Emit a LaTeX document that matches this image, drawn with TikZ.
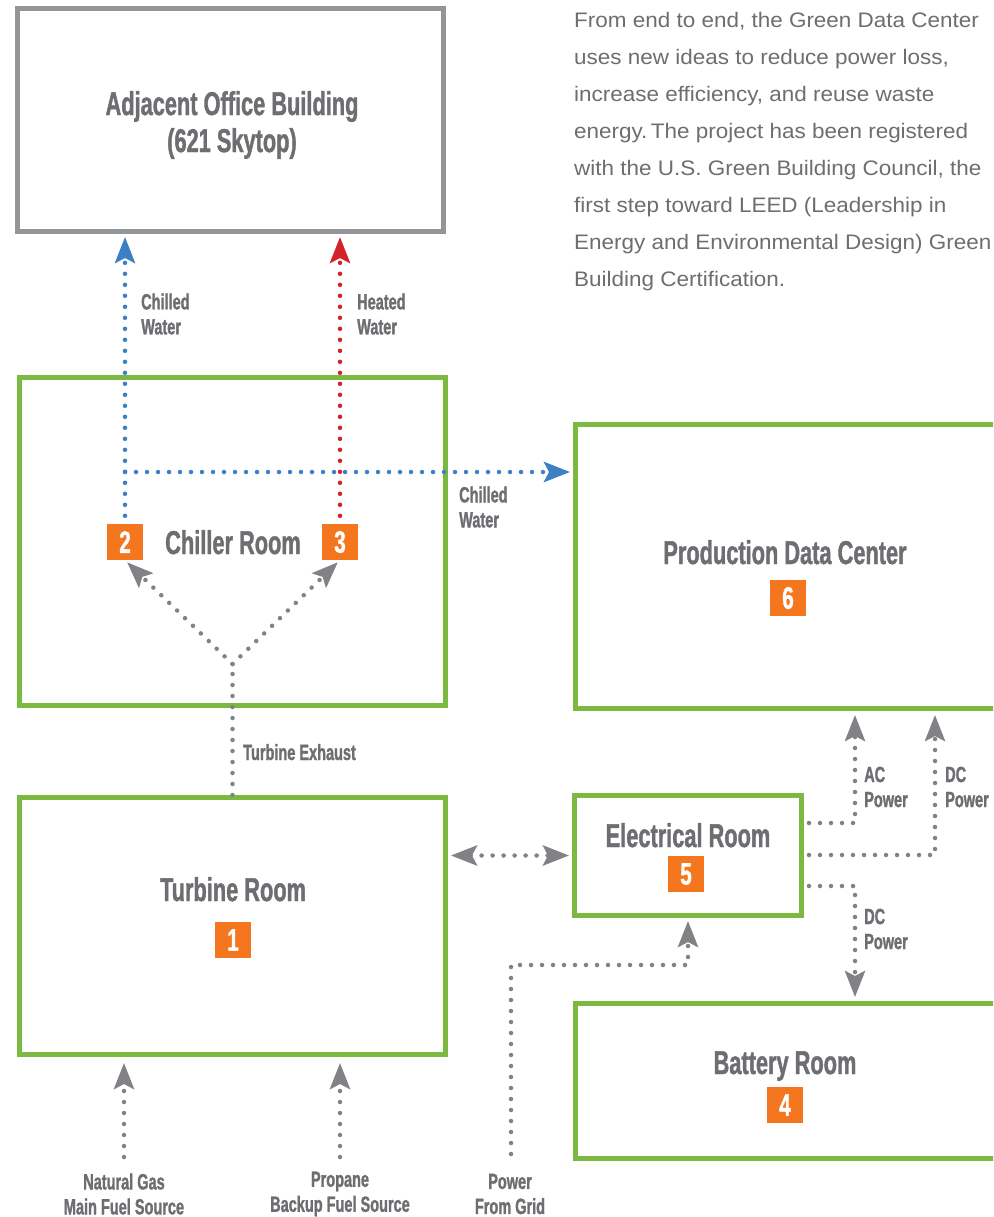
\documentclass[tikz,border=0pt]{standalone}
\usepackage{fontspec}
\setmainfont{Liberation Sans}
\newfontfamily\condf{Liberation Sans}[UprightFont=* Bold, FakeStretch=0.66, FakeBold=1.2]
\newfontfamily\bodyf{Liberation Sans}[FakeStretch=1.07]
\usetikzlibrary{arrows.meta}
\definecolor{tgray}{HTML}{6D6E71}
\definecolor{dgray}{HTML}{808285}
\definecolor{bgray}{HTML}{939598}
\definecolor{lgreen}{HTML}{7CB940}
\definecolor{orng}{HTML}{F47720}
\definecolor{bblue}{HTML}{3D7FC4}
\definecolor{rred}{HTML}{D2232A}
\tikzset{
 room/.style={draw=lgreen, line width=5pt, inner sep=0pt},
 officestyle/.style={draw=bgray, line width=5pt, inner sep=0pt},
 title/.style={font=\condf\fontsize{33}{37}\selectfont, text=tgray, inner sep=0pt, align=center},
 lbl/.style={font=\condf\fontsize{22}{25}\selectfont, text=tgray, inner sep=0pt},
 num/.style={fill=orng, text=white, minimum size=36pt, inner sep=0pt, font=\condf\fontsize{31}{31}\selectfont},
 dotline/.style={line width=4.5pt, dash pattern=on 0pt off 11pt, line cap=round},
 gdot/.style={dotline, color=dgray},
 bdot/.style={dotline, color=bblue},
 rdot/.style={dotline, color=rred},
}
\begin{document}
\begin{tikzpicture}[x=1pt,y=1pt,>={Stealth[length=26pt,width=20pt,inset=5pt]}]
\useasboundingbox (0,0) rectangle (993,-1217);
\clip (0,0) rectangle (993,-1217);
\fill[white] (0,0) rectangle (993,-1217);

% boxes
\node[officestyle, minimum width=426pt, minimum height=223pt] (officebox) at (230.5,-120) {};
\node[room, minimum width=426pt, minimum height=328pt] (chillerbox) at (232.5,-541.5) {};
\node[room, minimum width=600pt, minimum height=284pt] (prodbox) at (875.5,-566.5) {};
\node[room, minimum width=426pt, minimum height=257pt] (turbinebox) at (232.5,-926) {};
\node[room, minimum width=227pt, minimum height=120pt] (elecbox) at (688,-855.5) {};
\node[room, minimum width=600pt, minimum height=155pt] (batterybox) at (875.5,-1081) {};

% titles
\node[title] (officetxt) at (232,-125) {Adjacent Office Building\\(621 Skytop)};
\node[title, anchor=base] (chillertxt) at (233,-554) {Chiller Room};
\node[title, anchor=base] (prodtxt) at (785,-564) {Production Data Center};
\node[title, anchor=base] (turbinetxt) at (233,-901) {Turbine Room};
\node[title, anchor=base] (electxt) at (688,-847) {Electrical Room};
\node[title, anchor=base] (batterytxt) at (785,-1074) {Battery Room};

% numbers
\node[num] (n1) at (233,-940) {1};
\node[num] (n2) at (125,-542) {2};
\node[num] (n3) at (340,-542) {3};
\node[num] (n4) at (785,-1105) {4};
\node[num] (n5) at (686,-874) {5};
\node[num] (n6) at (788,-598) {6};

% paragraph
\node[font=\bodyf\fontsize{21}{37}\selectfont, text=tgray, align=left, anchor=north west, inner sep=0pt] (para) at (574,-12)
{From end to end, the Green Data Center\\
uses new ideas to reduce power loss,\\
increase efficiency, and reuse waste\\
energy.\,The project has been registered\\
with the U.S. Green Building Council, the\\
first step toward LEED (Leadership in\\
Energy and Environmental Design) Green\\
Building Certification.};

% water lines
\draw[bdot,->,shorten >=3pt] ([yshift=8pt]n2.north) -- (n2.north |- officebox.south);
\draw[rdot,->,shorten >=3pt] ([yshift=8pt]n3.north) -- (n3.north |- officebox.south);
\coordinate (bj) at (125,-472);
\draw[bdot,->,shorten >=3pt] (bj) -- (bj -| prodbox.west);

% exhaust
\coordinate (j) at (232.5,-664);
\draw[gdot] (turbinebox.north) -- (j);
\draw[gdot,->,shorten >=3pt] (j) -- (n2.south);
\draw[gdot,->,shorten >=3pt] (j) -- (n3.south);

% turbine <-> electrical
\draw[gdot,<->,shorten <=3pt,shorten >=3pt] (turbinebox.east |- elecbox.west) -- (elecbox.west);

% electrical outputs
\coordinate (ac0) at (809,-823); \coordinate (ac1) at (855,-823);
\draw[gdot,->,shorten >=4pt] (ac0) -- (ac1) -- (ac1 |- prodbox.south);
\coordinate (dc0) at (809,-855); \coordinate (dc1) at (935,-855);
\draw[gdot,->,shorten >=4pt] (dc0) -- (dc1) -- (dc1 |- prodbox.south);
\coordinate (dd0) at (809,-886); \coordinate (dd1) at (855,-886);
\draw[gdot,->,shorten >=4pt] (dd0) -- (dd1) -- (dd1 |- batterybox.north);

% grid
\coordinate (g0) at (511,-1154); \coordinate (g1) at (511,-965);
\draw[gdot,->,shorten >=3pt] (g0) -- (g1) -- (g1 -| elecbox.south) -- (elecbox.south);

% fuel
\coordinate (ng0) at (124,-1157);
\draw[gdot,->,shorten >=6pt] (ng0) -- (ng0 |- turbinebox.south);
\coordinate (pr0) at (340,-1157);
\draw[gdot,->,shorten >=6pt] (pr0) -- (pr0 |- turbinebox.south);

% labels
\node[lbl, align=left, anchor=west] (cw1) at (141,-314) {Chilled\\Water};
\node[lbl, align=left, anchor=west] (hw) at (357,-314) {Heated\\Water};
\node[lbl, align=left, anchor=west] (cw2) at (459,-507) {Chilled\\Water};
\node[lbl, anchor=base west] (texh) at (243,-760) {Turbine Exhaust};
\node[lbl, align=left, anchor=west] (acl) at (864,-787) {AC\\Power};
\node[lbl, align=left, anchor=west] (dcl) at (945,-787) {DC\\Power};
\node[lbl, align=left, anchor=west] (dcl2) at (864,-929) {DC\\Power};
\node[lbl, align=center] (nglbl) at (124,-1194) {Natural Gas\\Main Fuel Source};
\node[lbl, align=center] (prlbl) at (340,-1194) {Propane\\Backup Fuel Source};
\node[lbl, align=center] (pglbl) at (510,-1194) {Power\\From Grid};
\end{tikzpicture}
\end{document}
